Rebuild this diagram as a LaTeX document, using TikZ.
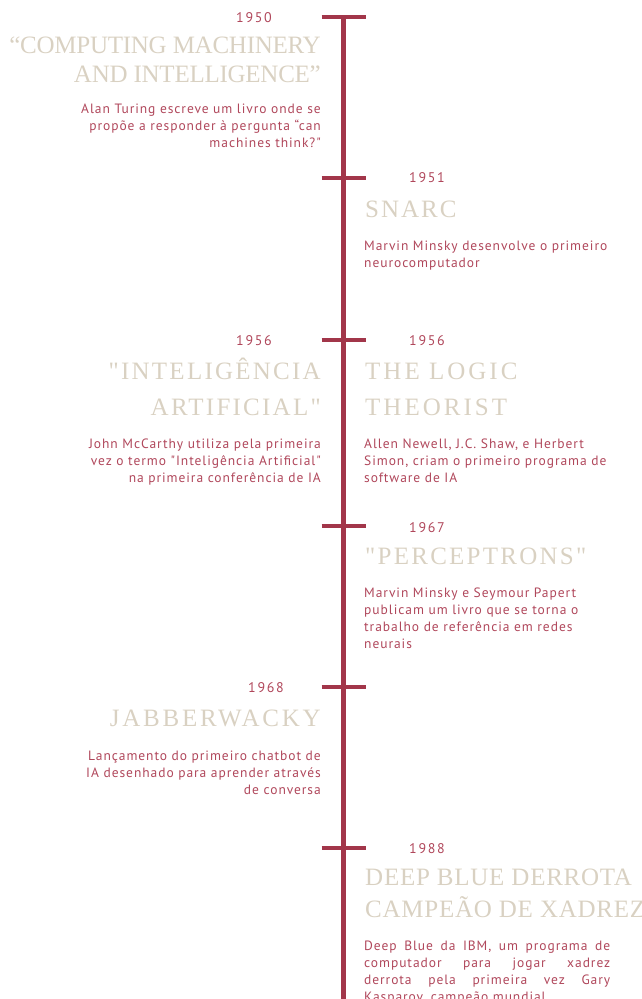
\documentclass[tikz,border=0pt]{standalone}
\usepackage{fontspec}
\setmainfont{Liberation Serif}
\newfontfamily\titlefont{Liberation Serif}
\newfontfamily\corpofont[LetterSpace=7]{PT Sans}
\newfontfamily\annofont[LetterSpace=12]{PT Sans}
\usetikzlibrary{positioning}
\definecolor{LineaRossa}{HTML}{A2364A}
\definecolor{Beige}{HTML}{D9D1C2}
\definecolor{TestoRosso}{HTML}{B0475B}
\tikzset{
  % linea del tempo
  linea/.style={LineaRossa,line width=5pt},
  tacca/.style={LineaRossa,line width=4.5pt},
  % testi (titolo = interlinea/spaziatura)
  anno/.style={TestoRosso,inner sep=0,font=\annofont\fontsize{14}{16}\selectfont},
  titolo/.style args={#1/#2}{Beige,inner sep=0,
    font=\titlefont\addfontfeatures{LetterSpace=#2}\fontsize{25}{#1}\selectfont},
  titolo/.default={29/9},
  testo/.style={TestoRosso,inner sep=0,font=\corpofont\fontsize{13.5}{17}\selectfont}
}

\begin{document}
\begin{tikzpicture}[x=1pt,y=-1pt]
  \useasboundingbox (0,0) rectangle (642,999);
  % asse verticale
  \coordinate (inizio) at (343.5,15);
  \coordinate (fine) at (343.5,999);
  \draw[linea] (inizio) -- (fine);
  % tacche
  \foreach \y/\n in {17/1950,178/1951,340/1956,526/1967,687/1968,848/1988}{
    \coordinate (tacca\n) at (343.5,\y);
    \draw[tacca] ([xshift=-22pt]tacca\n) -- ([xshift=22pt]tacca\n);
  }
  % 1950 (base = ultima riga)
  \node[anno,anchor=base east] (anno1950) at (272,22) {1950};
  \node[titolo=29/-1,anchor=base east,align=right] (tit1950) at (321,82)
    {“COMPUTING MACHINERY\\AND INTELLIGENCE”};
  \node[testo,anchor=base east,align=right] (txt1950) at (321,147)
    {Alan Turing escreve um livro onde se\\propõe a responder à pergunta “can\\machines think?"};
  % 1951
  \node[anno,anchor=base west] (anno1951) at (409,182) {1951};
  \node[titolo=29/8,anchor=base west] (tit1951) at (365,217) {SNARC};
  \node[testo,anchor=base west,align=left] (txt1951) at (364,267)
    {Marvin Minsky desenvolve o primeiro\\neurocomputador};
  % 1956 sinistra
  \node[anno,anchor=base east] (anno1956a) at (272,345) {1956};
  \node[titolo=36/9,anchor=base east,align=right] (tit1956a) at (321,415)
    {"INTELIGÊNCIA\\ARTIFICIAL"};
  \node[testo,anchor=base east,align=right] (txt1956a) at (321,482)
    {John McCarthy utiliza pela primeira\\vez o termo "Inteligência Artificial"\\na primeira conferência de IA};
  % 1956 destra
  \node[anno,anchor=base west] (anno1956b) at (409,345) {1956};
  \node[titolo=36/12,anchor=base west,align=left] (tit1956b) at (365,415)
    {THE LOGIC\\THEORIST};
  \node[testo,anchor=base west,align=left] (txt1956b) at (364,482)
    {Allen Newell, J.C. Shaw, e Herbert\\Simon, criam o primeiro programa de\\software de IA};
  % 1967
  \node[anno,anchor=base west] (anno1967) at (409,532) {1967};
  \node[titolo,anchor=base west] (tit1967) at (365,564) {"PERCEPTRONS"};
  \node[testo,anchor=base west,align=left] (txt1967) at (364,648)
    {Marvin Minsky e Seymour Papert\\publicam um livro que se torna o\\trabalho de referência em redes\\neurais};
  % 1968
  \node[anno,anchor=base east] (anno1968) at (284,692) {1968};
  \node[titolo=29/11,anchor=base east] (tit1968) at (321,726) {JABBERWACKY};
  \node[testo,anchor=base east,align=right] (txt1968) at (321,794)
    {Lançamento do primeiro chatbot de\\IA desenhado para aprender através\\de conversa};
  % 1988
  \node[anno,anchor=base west] (anno1988) at (409,853) {1988};
  \node[titolo=32/3,anchor=base west,align=left] (tit1988) at (365,917)
    {DEEP BLUE DERROTA\\CAMPEÃO DE XADREZ};
  \node[testo,anchor=base west,text width=246pt,align=justify] (txt1988) at (364,950)
    {\hyphenpenalty=10000\tolerance=10000 Deep Blue da IBM, um programa de\linebreak
     computador para jogar xadrez\linebreak derrota pela primeira vez Gary\linebreak
     Kasparov, campeão mundial};
\end{tikzpicture}
\end{document}
